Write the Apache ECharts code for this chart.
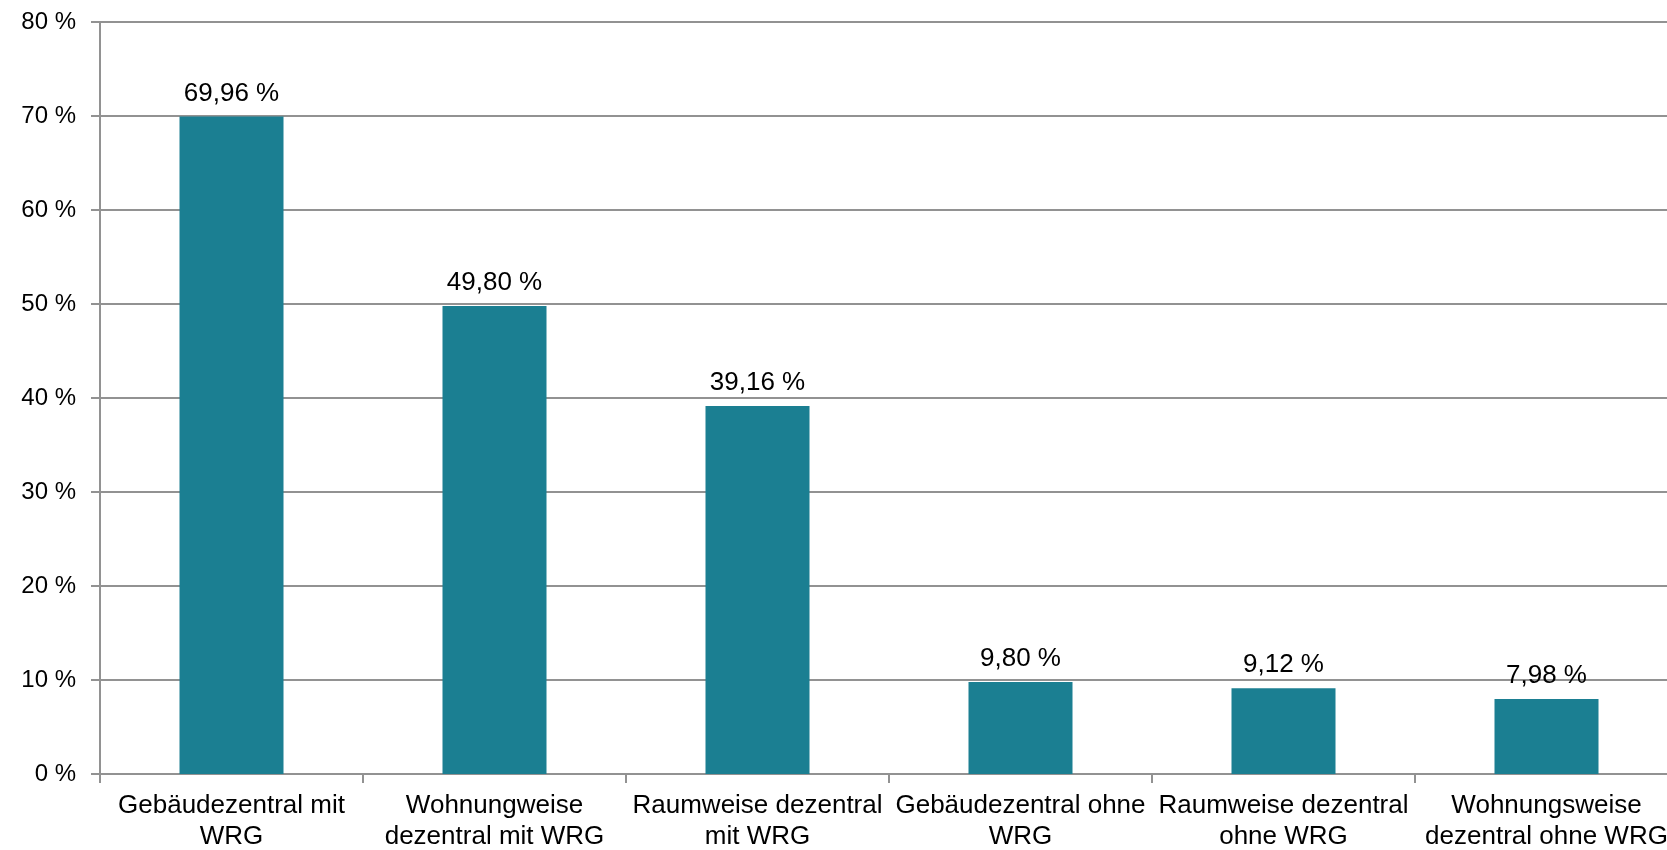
<!DOCTYPE html>
<html><head><meta charset="utf-8">
<script src="https://cdn.jsdelivr.net/npm/echarts@6/dist/echarts.min.js"></script>
<style>html,body{margin:0;padding:0;background:#fff}#c{width:1667px;height:850px}</style>
</head><body><div id="c"></div>
<script>
const categories = [
  "Gebäudezentral mit\nWRG",
  "Wohnungweise\ndezentral mit WRG",
  "Raumweise dezentral\nmit WRG",
  "Gebäudezentral ohne\nWRG",
  "Raumweise dezentral\nohne WRG",
  "Wohnungsweise\ndezentral ohne WRG"
];
const values = [69.96, 49.80, 39.16, 9.80, 9.12, 7.98];
const yTicks = [0, 10, 20, 30, 40, 50, 60, 70, 80];

const chart = echarts.init(document.getElementById('c'));
const font = 'Liberation Sans, Arial, sans-serif';
chart.setOption({
  animation: false,
  grid: { left: 100, top: 22, width: 1578, height: 752, outerBoundsMode: 'none', containLabel: false },
  xAxis: {
    type: 'category',
    data: categories,
    axisLine: { lineStyle: { color: '#929292', width: 2 } },
    axisTick: { show: true, length: 9, lineStyle: { color: '#929292', width: 2 } },
    axisLabel: { color: '#000', fontSize: 26, fontFamily: font, lineHeight: 31, margin: 16, interval: 0 }
  },
  yAxis: {
    type: 'value',
    min: yTicks[0], max: yTicks[yTicks.length - 1], interval: 10,
    axisLine: { show: true, lineStyle: { color: '#929292', width: 2 } },
    axisTick: { show: true, length: 9, lineStyle: { color: '#929292', width: 2 } },
    splitLine: { lineStyle: { color: '#929292', width: 2 } },
    axisLabel: { color: '#000', fontSize: 24, fontFamily: font, margin: 24, formatter: v => v + ' %' }
  },
  series: [{
    type: 'bar',
    data: values,
    barWidth: 104,
    itemStyle: { color: '#1b7f92' },
    label: {
      show: true, position: 'top', distance: 10,
      color: '#000', fontSize: 26, fontFamily: font,
      formatter: p => p.value.toFixed(2).replace('.', ',') + ' %'
    }
  }]
});
</script></body></html>
